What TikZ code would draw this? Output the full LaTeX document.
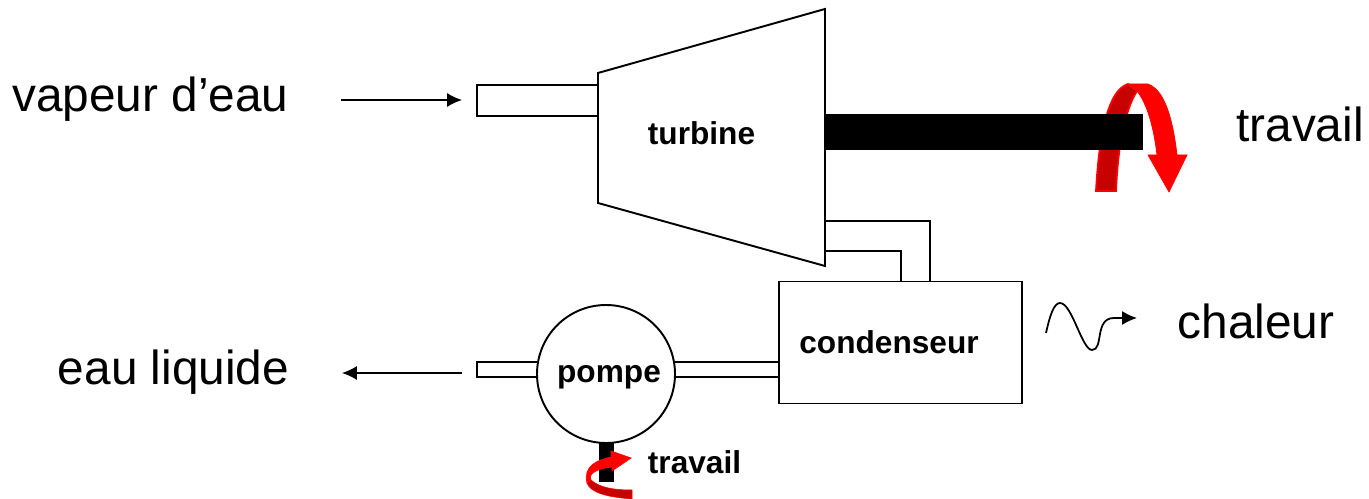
\documentclass[tikz,border=0pt]{standalone}
\usepackage{fontspec}
\setmainfont{Liberation Sans}
\usepackage{tikz}
\usetikzlibrary{arrows.meta}
\tikzset{
  big label/.style={anchor=base, inner sep=0pt, font=\fontsize{27.2}{32}\selectfont},
  small label/.style={anchor=base, inner sep=0pt, font=\fontsize{18}{22}\selectfont\bfseries},
  flow/.style={-{Latex[length=8.5pt,width=8pt]}, line width=0.8pt},
  wall/.style={line width=1.1pt, line join=miter},
  red front/.style={fill=red, draw=red, line width=0.4pt},
  red back/.style={fill=red!78!black, draw=red, line width=1pt},
}
\begin{document}
\begin{tikzpicture}[x=0.02cm, y=-0.02cm]
\useasboundingbox (0,0) rectangle (1369,499);

% entree vapeur
\draw[wall] (598,85) -- (477,85) -- (477,116) -- (598,116);
\coordinate (vapeurA) at (341,100);
\coordinate (vapeurB) at (462,100);
\draw[flow] (vapeurA) -- (vapeurB);

% arbre et turbine
\draw[red back] (1096,191) .. controls (1099,135) and (1108,90) .. (1128,84)
  -- (1137,91) .. controls (1125,110) and (1118,145) .. (1116,191) -- cycle;
\fill[black] (825,114) rectangle (1143,150);
\draw[red front] (1128,84) -- (1148,84) .. controls (1165,90) and (1173,120) .. (1177,155)
  -- (1187,155) -- (1169,192) -- (1148,155) -- (1157,155)
  .. controls (1154,130) and (1148,105) .. (1137,91) -- cycle;
\draw[wall, fill=white] (598,73) -- (825,9) -- (825,266) -- (598,203) -- cycle;

% sortie turbine
\draw[wall] (825,221) -- (930,221) -- (930,282);
\draw[wall] (825,251) -- (901,251) -- (901,282);

% condenseur et pompe
\node[wall, draw, fill=white, minimum width=243*0.02cm, minimum height=122*0.02cm, inner sep=0pt] (condenseurbox) at (900.5,342.5) {};
\draw[wall] (675,362) -- (779,362);
\draw[wall] (675,377) -- (779,377);
\draw[wall] (540,362) -- (477,362) -- (477,377) -- (540,377);
\fill[black] (599,440) rectangle (614,482);
\node[wall, draw, fill=white, circle, minimum size=138*0.02cm, inner sep=0pt] (pompebox) at (606,374) {};

% petite fleche rouge
\draw[red back, line width=0.3pt] (587,483) .. controls (590,492) and (605,497) .. (632,499)
  -- (632,490) .. controls (615,490) and (600,488) .. (591,480) -- cycle;
\draw[red front] (631,458) -- (611,451) -- (611,457) .. controls (597,460) and (583,466) .. (587,483)
  -- (591,480) .. controls (587,473) and (600,468) .. (612,467) -- (612,471) -- cycle;

\coordinate (liquideA) at (462,373);
\coordinate (liquideB) at (342,373);
\draw[flow] (liquideA) -- (liquideB);

% chaleur
\coordinate (chaleurA) at (1046,333);
\coordinate (chaleurB) at (1137,318);
\draw[flow, line width=1pt] (chaleurA) .. controls (1050,315) and (1054,303) .. (1060,303)
  .. controls (1072,303) and (1082,350) .. (1092,350)
  .. controls (1104,350) and (1094,318) .. (1114,318) -- (chaleurB);

% textes
\node[big label] (vapeur) at (150.5,112) {vapeur d’eau};
\node[big label] (liquide) at (173.5,385) {eau liquide};
\node[big label] (travail) at (1300,142) {travail};
\node[big label] (chaleur) at (1256,339) {chaleur};
\node[small label] (turbine) at (701.5,144.5) {turbine};
\node[small label] (pompe) at (609,382.5) {pompe};
\node[small label] (condenseur) at (889,353.5) {condenseur};
\node[small label] (travailb) at (694.5,473.5) {travail};
\end{tikzpicture}
\end{document}
